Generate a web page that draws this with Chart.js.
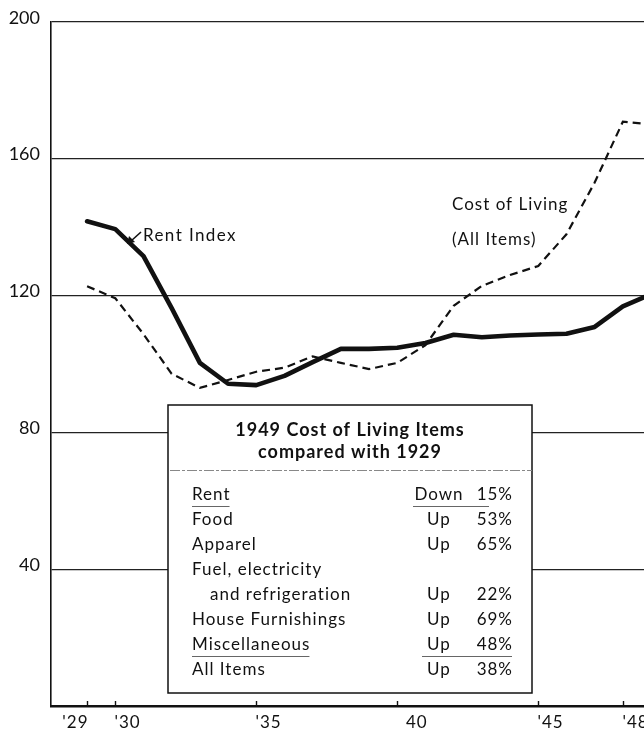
<!DOCTYPE html>
<html>
<head>
<meta charset="utf-8">
<title>Rent Index and Cost of Living</title>
<script src="https://cdn.jsdelivr.net/npm/chart.js@4.4.0/dist/chart.umd.min.js"></script>
<style>
  html, body { margin: 0; padding: 0; background: #fff; }
  canvas { display: block; }
</style>
</head>
<body>
<canvas id="rent-chart" width="644" height="736"></canvas>
<script>
// index values, 1935-39 = 100
const years = [1929, 1930, 1931, 1932, 1933, 1934, 1935, 1936, 1937, 1938, 1939,
  1940, 1941, 1942, 1943, 1944, 1945, 1946, 1947, 1948, 1949];
const rentIndex = [141.7, 139.4, 131.5, 116.3, 100.3, 94.2, 93.8, 96.5, 100.5, 104.4, 104.4,
  104.7, 106.1, 108.5, 107.8, 108.3, 108.6, 108.8, 110.8, 116.8, 120.4];
const costOfLiving = [122.7, 119.2, 108.7, 97.1, 93.0, 95.3, 97.7, 98.9, 102.2, 100.3, 98.5,
  100.3, 105.5, 117.0, 122.8, 126.0, 128.6, 137.9, 153.0, 170.8, 170.0];

const yTicks = [0, 40, 80, 120, 160, 200];
const xTickYears = [1929, 1930, 1935, 1940, 1945, 1948];
const xTickLabels = ["'29", "'30", "'35", "40", "'45", "'48"];

const itemNames = ["Rent", "Food", "Apparel", "Fuel, electricity\nand refrigeration",
  "House Furnishings", "Miscellaneous", "All Items"];
const itemDirections = ["Down", "Up", "Up", "Up", "Up", "Up", "Up"];
const itemChanges = ["15%", "53%", "65%", "22%", "69%", "48%", "38%"];

const FONT = "Lato, 'Open Sans', sans-serif";
const INK = "#111";

const toPoints = (values) => values.map((v, i) => ({ x: years[i], y: v }));

// year labels sit beside small upward tick marks
const yearAxisPlugin = {
  id: "yearAxis",
  afterDraw(chart) {
    const { ctx, chartArea, scales: { x } } = chart;
    ctx.save();
    ctx.strokeStyle = INK;
    ctx.fillStyle = INK;
    ctx.lineWidth = 1.4;
    ctx.font = `17px ${FONT}`;
    ctx.letterSpacing = "1px";
    ctx.textBaseline = "middle";
    const labelY = chartArea.bottom + 17;
    xTickYears.forEach((yr, i) => {
      const px = Math.round(x.getPixelForValue(yr)) + 0.5;
      ctx.beginPath();
      ctx.moveTo(px, chartArea.bottom);
      ctx.lineTo(px, chartArea.bottom - 5);
      ctx.stroke();
      const label = xTickLabels[i];
      if (i === 0) {
        ctx.textAlign = "right";
        ctx.fillText(label, px + 1, labelY);
      } else {
        ctx.textAlign = "left";
        const shift = label.startsWith("'") ? -1 : ctx.measureText("'").width + 4;
        ctx.fillText(label, px + shift, labelY);
      }
    });
    ctx.restore();
  },
};

// series names and the pointer to the rent line
const seriesLabelsPlugin = {
  id: "seriesLabels",
  afterDatasetsDraw(chart) {
    const { ctx } = chart;
    ctx.save();
    ctx.fillStyle = INK;
    ctx.strokeStyle = INK;
    ctx.font = `17px ${FONT}`;
    ctx.letterSpacing = "1.4px";
    ctx.textBaseline = "middle";
    ctx.textAlign = "left";
    ctx.fillText("Rent Index", 143, 236);
    ctx.letterSpacing = "1px";
    ctx.fillText("Cost of Living", 452, 205);
    ctx.fillText("(All Items)", 452, 240);

    ctx.lineWidth = 1.6;
    ctx.beginPath();
    ctx.moveTo(141, 232);
    ctx.lineTo(131, 241);
    ctx.stroke();
    ctx.beginPath();
    ctx.moveTo(127, 244);
    ctx.lineTo(129, 236);
    ctx.lineTo(135, 242);
    ctx.closePath();
    ctx.fill();
    ctx.restore();
  },
};

// boxed comparison table
const tablePlugin = {
  id: "itemTable",
  afterDraw(chart) {
    const { ctx } = chart;
    const box = { left: 168, top: 405, right: 532, bottom: 693 };
    ctx.save();
    ctx.fillStyle = "#fff";
    ctx.fillRect(box.left, box.top, box.right - box.left, box.bottom - box.top);
    ctx.strokeStyle = INK;
    ctx.lineWidth = 1.5;
    ctx.strokeRect(box.left, box.top, box.right - box.left, box.bottom - box.top);

    ctx.fillStyle = INK;
    ctx.textBaseline = "middle";
    ctx.textAlign = "center";
    ctx.font = `bold 18px ${FONT}`;
    ctx.letterSpacing = "1px";
    const mid = (box.left + box.right) / 2;
    ctx.fillText("1949 Cost of Living Items", mid, 430);
    ctx.fillText("compared with 1929", mid, 452);

    ctx.strokeStyle = "#888";
    ctx.lineWidth = 1;
    ctx.setLineDash([10, 2, 3, 2]);
    ctx.beginPath();
    ctx.moveTo(box.left + 2, 470.5);
    ctx.lineTo(box.right, 470.5);
    ctx.stroke();
    ctx.setLineDash([]);

    ctx.font = `17px ${FONT}`;
    const pitch = 24.9;
    const nameX = 192;
    const dirX = 439;
    const pctX = 512;
    let line = 0;
    itemNames.forEach((name, i) => {
      const parts = name.split("\n");
      parts.forEach((part, j) => {
        ctx.textAlign = "left";
        ctx.fillText(part, nameX + (j > 0 ? 18 : 0), 495 + (line + j) * pitch);
      });
      line += parts.length - 1;
      const y = 495 + line * pitch;
      ctx.textAlign = "center";
      ctx.fillText(itemDirections[i], dirX, y);
      ctx.textAlign = "right";
      ctx.fillText(itemChanges[i], pctX + 1, y);
      line += 1;
    });

    // rules under the first and the last item rows
    ctx.strokeStyle = "#666";
    ctx.lineWidth = 1;
    const rule = (x0, x1, y) => {
      ctx.beginPath();
      ctx.moveTo(x0, y);
      ctx.lineTo(x1, y);
      ctx.stroke();
    };
    ctx.textAlign = "left";
    rule(nameX, nameX + ctx.measureText(itemNames[0]).width - 1, 506.5);
    rule(413, 489, 506.5);
    rule(nameX, nameX + ctx.measureText(itemNames[5]).width - 1, 656.5);
    rule(422, pctX, 656.5);
    ctx.restore();
  },
};

const chart = new Chart(document.getElementById("rent-chart"), {
  type: "line",
  data: {
    datasets: [
      {
        label: "Rent Index",
        data: toPoints(rentIndex),
        borderColor: INK,
        borderWidth: 4.6,
        pointRadius: 0,
        borderJoinStyle: "round",
        borderCapStyle: "round",
        tension: 0,
      },
      {
        label: "Cost of Living (All Items)",
        data: toPoints(costOfLiving),
        borderColor: INK,
        borderWidth: 2.2,
        borderDash: [8, 5],
        pointRadius: 0,
        tension: 0,
      },
    ],
  },
  options: {
    responsive: false,
    animation: false,
    devicePixelRatio: 1,
    layout: { padding: { top: 20, right: 0, bottom: 0, left: 0 } },
    plugins: {
      legend: { display: false },
      tooltip: { enabled: false },
    },
    scales: {
      x: {
        type: "linear",
        min: 1927.72,
        max: 1948.75,
        afterFit: (scale) => { scale.height = 30; },
        ticks: { display: false },
        grid: { display: false },
        border: { display: true, color: INK, width: 2.4 },
      },
      y: {
        min: 0,
        max: 200,
        afterFit: (scale) => { scale.width = 51; },
        afterBuildTicks: (scale) => { scale.ticks = yTicks.map((v) => ({ value: v })); },
        ticks: {
          padding: 11,
          labelOffset: -4,
          color: INK,
          font: { family: FONT, size: 18 },
          callback: (v) => (v === 0 ? "" : v),
        },
        grid: {
          drawTicks: false,
          lineWidth: 1.3,
          color: (ctx) => (ctx.tick && ctx.tick.value === 0 ? "rgba(0,0,0,0)" : "#222"),
        },
        border: { display: true, color: INK, width: 1.6 },
      },
    },
  },
  plugins: [seriesLabelsPlugin, tablePlugin, yearAxisPlugin],
});
</script>
</body>
</html>
